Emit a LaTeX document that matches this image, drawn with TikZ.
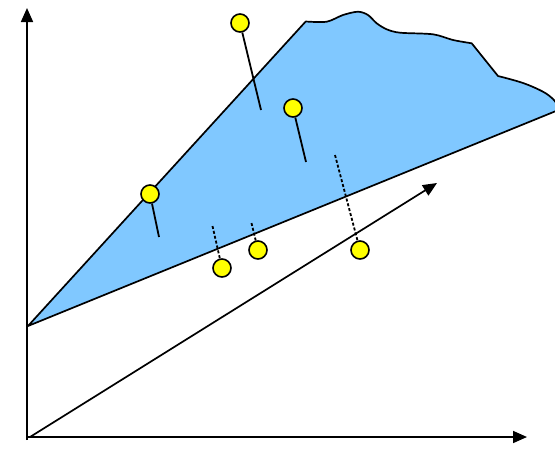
\documentclass[tikz,border=0pt]{standalone}
\usetikzlibrary{arrows.meta}
\definecolor{regionblue}{RGB}{128,200,255}
\definecolor{pinyellow}{RGB}{255,255,0}
\begin{document}
\begin{tikzpicture}[x=1pt,y=-1pt,
  pin/.style={circle, draw=black, fill=pinyellow, line width=1.6pt, minimum size=18pt, inner sep=0pt},
  pinline/.style={draw=black, line width=1.8pt},
  dline/.style={draw=black, line width=1.8pt, dash pattern=on 3pt off 2pt},
  axis/.style={draw=black, line width=1.7pt, -{Triangle[length=14pt,width=12pt]}}]
\useasboundingbox (0,0) rectangle (555,467);
% region
\filldraw[fill=regionblue, draw=black, line width=1.7pt, line join=round]
  (28,326) -- (305.7,21.5)
  -- plot[smooth, tension=0.5] coordinates {(305.7,21.5) (326.7,21.7) (343,15) (358,11.7) (368,15) (376.7,23.3) (386.7,29.3) (400,32.7) (433,34.3) (453,40) (471.7,43.3)}
  -- (498,76)
  -- plot[smooth, tension=0.6] coordinates {(498,76) (523,83) (543,91.7) (553,99) (556,103)}
  -- (556,111) -- cycle;
% axes
\coordinate (O) at (27,437);
\coordinate (ytop) at (27,8);
\coordinate (xend) at (527,437);
\coordinate (dend) at (437,183);
\draw[axis] (27,440) -- (ytop);
\draw[axis] (O) -- (xend);
\draw[axis] (30,437) -- (dend);
% pins
\node[pin] (p1) at (240,23) {};
\node[pin] (p2) at (293,108) {};
\node[pin] (p3) at (150,194) {};
\node[pin] (p4) at (222,268) {};
\node[pin] (p5) at (258,250) {};
\node[pin] (p6) at (360,250) {};
\coordinate (e1) at (261,110);
\coordinate (e2) at (306,162);
\coordinate (e3) at (159,237);
\coordinate (e4) at (212.5,226);
\coordinate (e5) at (251.5,223);
\coordinate (e6) at (335,155);
\draw[pinline] (p1) -- (e1);
\draw[pinline] (p2) -- (e2);
\draw[pinline] (p3) -- (e3);
\draw[dline] (e4) -- (p4);
\draw[dline] (e5) -- (p5);
\draw[dline] (e6) -- (p6);
\end{tikzpicture}
\end{document}
